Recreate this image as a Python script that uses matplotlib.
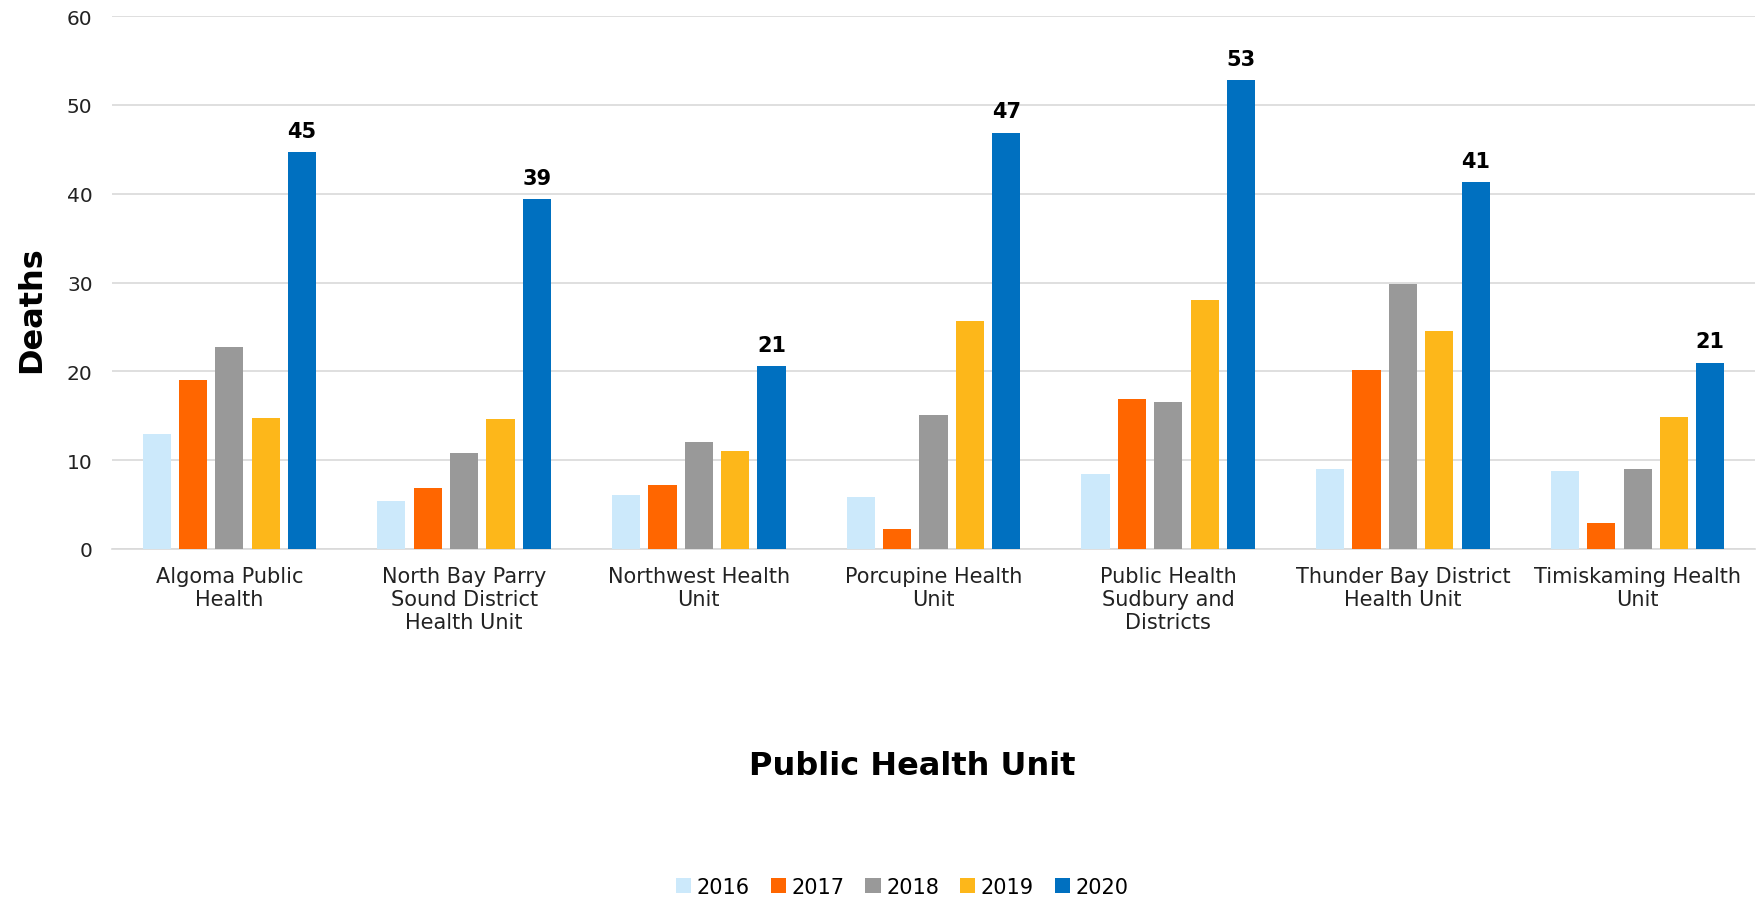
import matplotlib
matplotlib.use("Agg")
import matplotlib.pyplot as plt
import numpy as np

categories = ["Algoma Public\nHealth", "North Bay Parry\nSound District\nHealth Unit",
              "Northwest Health\nUnit", "Porcupine Health\nUnit",
              "Public Health\nSudbury and\nDistricts", "Thunder Bay District\nHealth Unit",
              "Timiskaming Health\nUnit"]
years = ["2016", "2017", "2018", "2019", "2020"]
v2016 = [12.9, 5.4, 6.1, 5.8, 8.4, 9.0, 8.8]
v2017 = [19.0, 6.9, 7.2, 2.2, 16.9, 20.1, 2.9]
v2018 = [22.7, 10.8, 12.1, 15.1, 16.5, 29.8, 9.0]
v2019 = [14.8, 14.6, 11.0, 25.7, 28.0, 24.6, 14.9]
v2020 = [44.7, 39.4, 20.6, 46.9, 52.8, 41.3, 21.0]
labels2020 = ["45", "39", "21", "47", "53", "41", "21"]

series = [v2016, v2017, v2018, v2019, v2020]
colors = ["#cce9fb", "#ff6600", "#999999", "#fdb71a", "#0070c0"]

plt.rcParams['font.family'] = ['DejaVu Sans']
fig = plt.figure(figsize=(17.62, 9.04), dpi=100)
ax = fig.add_axes([0.0636, 0.3916, 0.9324, 0.5894])

x = np.arange(len(categories))
step = 0.155
width = 0.12
for i, (vals, c, yr) in enumerate(zip(series, colors, years)):
    pos = x + (i - 2) * step
    bars = ax.bar(pos, vals, width=width, color=c, label=yr, zorder=3)
    if i == 4:
        for b, lab in zip(bars, labels2020):
            ax.annotate(lab, (b.get_x() + b.get_width() / 2, b.get_height()),
                        xytext=(0, 8), textcoords="offset points",
                        ha="center", va="bottom", fontsize=15, fontweight="bold")

ax.set_ylim(0, 60)
ax.set_xlim(-0.5, len(categories) - 0.5)
ax.set_yticks(range(0, 61, 10))
ax.yaxis.grid(True, color="#d9d9d9", linewidth=1.2, zorder=0)
ax.set_axisbelow(True)
for s in ["top", "right", "left"]:
    ax.spines[s].set_visible(False)
ax.spines["bottom"].set_color("#d9d9d9")
ax.spines["bottom"].set_linewidth(1.2)
ax.tick_params(axis="both", length=0, labelsize=14.5, colors="#222222")
ax.tick_params(axis="y", pad=14)
ax.tick_params(axis="x", pad=12)
ax.set_xticks(x)
ax.set_xticklabels(categories, fontsize=15, va="top", linespacing=1.2)

fig.text(0.0179, 0.658, "Deaths", rotation=90, ha="center", va="center",
         fontsize=23, fontweight="bold")
fig.text(0.5175, 0.152, "Public Health Unit", ha="center", va="center",
         fontsize=23, fontweight="bold")

handles, lbls = ax.get_legend_handles_labels()
fig.legend(handles, lbls, loc="center", bbox_to_anchor=(0.512, 0.018), ncol=5,
           frameon=False, fontsize=15, handlelength=0.75, handleheight=0.75,
           handletextpad=0.25, columnspacing=1.0)

fig.savefig("out.png", dpi=100)
